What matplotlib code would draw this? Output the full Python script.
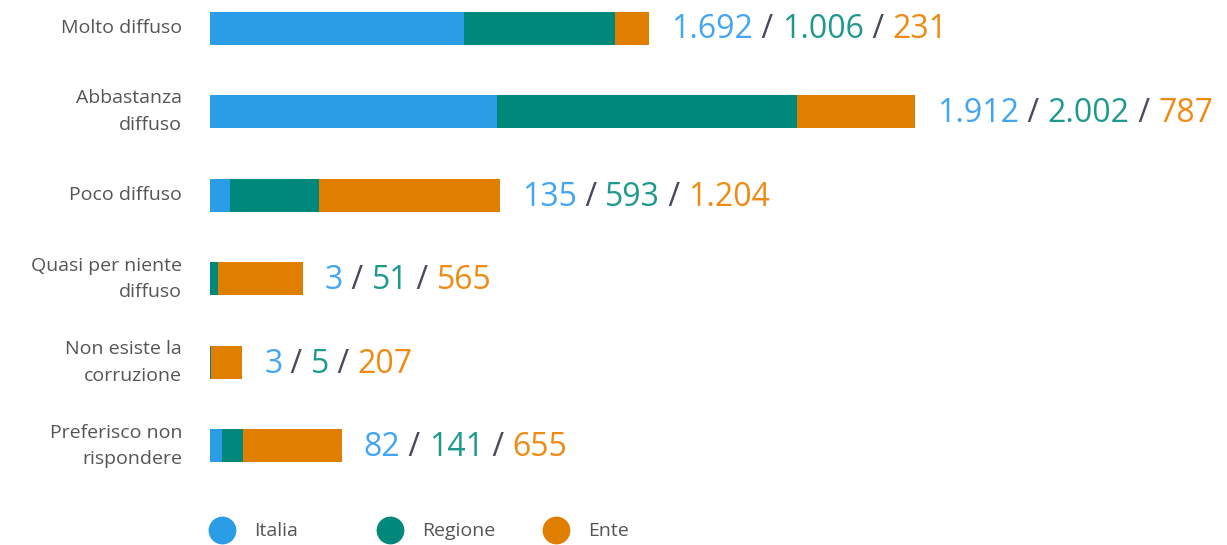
import matplotlib.pyplot as plt
from matplotlib.lines import Line2D
import matplotlib.transforms as mtransforms

plt.rcParams['font.family'] = ['Open Sans', 'DejaVu Sans']

# Dati
categorie = ['Molto diffuso', 'Abbastanza\ndiffuso', 'Poco diffuso',
             'Quasi per niente\ndiffuso', 'Non esiste la\ncorruzione',
             'Preferisco non\nrispondere']
italia = [1692, 1912, 135, 3, 3, 82]
regione = [1006, 2002, 593, 51, 5, 141]
ente = [231, 787, 1204, 565, 207, 655]
serie = ['Italia', 'Regione', 'Ente']

col_bar = ['#2B9CE6', '#00897B', '#E07E00']
col_txt = ['#42A5F5', '#1E9A8C', '#EF8A12']
col_slash = '#4A4A5A'
col_lab = '#555555'

def fmt(v):
    return f"{v:,}".replace(',', '.')

W, H = 1227, 545
fig = plt.figure(figsize=(W/100, H/100), dpi=100)
x0 = 210
ax = fig.add_axes([x0/W, (H-480)/H, 1 - x0/W, 480/H])
ax.set_xlim(0, (W - x0)/0.15)
ax.set_ylim(5 + (480-446)/83.6, -28/83.6)
ax.axis('off')

y = list(range(len(categorie)))
h = 33/83.6
left = [0]*len(y)
for vals, c in zip([italia, regione, ente], col_bar):
    ax.barh(y, vals, left=left, height=h, color=c, linewidth=0)
    left = [l + v for l, v in zip(left, vals)]

# etichette categorie
for yi, lab in zip(y, categorie):
    tr = ax.transData + mtransforms.ScaledTranslation(-28/100, 0, fig.dpi_scale_trans)
    ax.text(0, yi, lab, transform=tr, ha='right', va='center', fontsize=14,
            color=col_lab, multialignment='right', linespacing=1.6)

# valori
for yi, tot, a, b, c in zip(y, left, italia, regione, ente):
    pezzi = [(fmt(a), col_txt[0]), (' / ', col_slash), (fmt(b), col_txt[1]),
             (' / ', col_slash), (fmt(c), col_txt[2])]
    tr = ax.transData + mtransforms.ScaledTranslation(22/100, -2/100, fig.dpi_scale_trans)
    t = ax.text(tot, yi, pezzi[0][0], transform=tr, ha='left', va='center',
                fontsize=23, color=pezzi[0][1])
    for s, col in pezzi[1:]:
        t = ax.annotate(s, xy=(1, 0.5), xycoords=t, ha='left', va='center',
                        fontsize=23, color=col)

# legenda
lx = [222, 390, 556]
for xp, nome, c in zip(lx, serie, col_bar):
    fig.add_artist(Line2D([xp/W], [(H-530)/H], marker='o', markersize=19,
                          color=c, linestyle='none', transform=fig.transFigure))
    fig.text((xp+32)/W, (H-531)/H, nome, ha='left', va='center', fontsize=14,
             color=col_lab)

fig.savefig('out.png', dpi=100)
